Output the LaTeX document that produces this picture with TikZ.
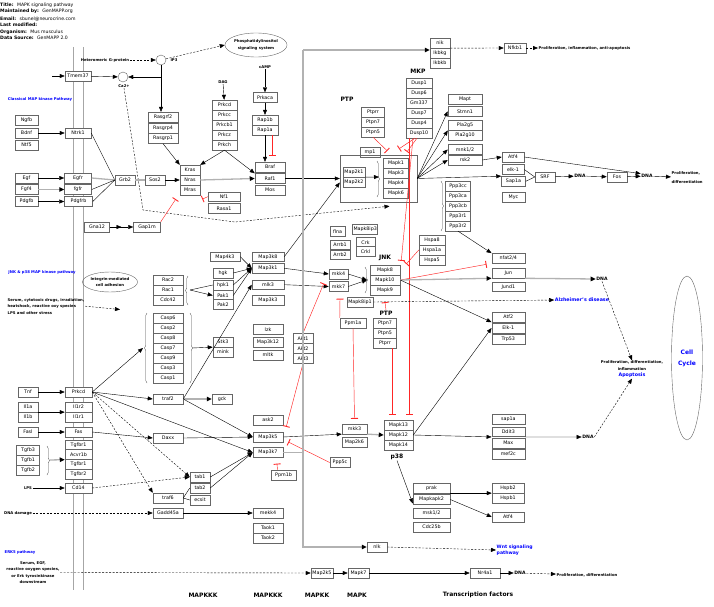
\documentclass[tikz,border=0pt]{standalone}
\usepackage{fontspec}
\setmainfont{DejaVu Sans}
\usetikzlibrary{arrows.meta,calc,shapes.geometric,decorations.pathreplacing}

\tikzset{
  gene/.style={draw=black!60, fill=white, line width=0.5pt, minimum width=#1,
    minimum height=9.8pt, inner sep=0pt, font=\fontsize{4.8}{5}\selectfont},
  gene/.default=25pt,
  note/.style={font=\fontsize{3.8}{6.5}\selectfont\bfseries, inner sep=0.5pt},
  head/.style={font=\fontsize{6}{7}\selectfont\bfseries, inner sep=0.5pt},
  bluenote/.style={note, text=blue},
  ring/.style={circle, draw=black!60, fill=white, minimum size=10pt, inner sep=0pt},
  arr/.style={-{Triangle[length=5pt,width=4pt]}},
  dsh/.style={dash pattern=on 2pt off 1.5pt},
  gline/.style={black!30, line width=1.3pt},
  grayarr/.style={gline, -{Triangle[length=5pt,width=4.5pt,color=black]}},
  inh/.style={red!85, line width=0.45pt, -{Bar[width=7pt,line width=0.9pt]}},
  brc/.style={decorate, decoration={brace, amplitude=2.5pt}, black!70, line width=0.4pt},
  memb/.style={black!35, line width=0.7pt},
}

\begin{document}
\begin{tikzpicture}[x=1pt, y=-1pt, line width=0.4pt]
  \useasboundingbox (0,0) rectangle (714,607);

  % header
  \begin{scope}[font=\fontsize{4.6}{5}\selectfont]
    \node[anchor=west, inner sep=0] (hd1) at (0,5) {\textbf{Title:} \ MAPK signaling pathway};
    \node[anchor=west, inner sep=0] (hd2) at (0,11.7) {\textbf{Maintained by:} \ GenMAPP.org};
    \node[anchor=west, inner sep=0] (hd3) at (0,18.7) {\textbf{Email:} \ sbunel@neurocrine.com};
    \node[anchor=west, inner sep=0] (hd4) at (0,25) {\textbf{Last modified:}};
    \node[anchor=west, inner sep=0] (hd5) at (0,32) {\textbf{Organism:} \ Mus musculus};
    \node[anchor=west, inner sep=0] (hd6) at (0,38.3) {\textbf{Data Source:} \ GenMAPP 2.0};
  \end{scope}

  % membrane
  \draw[memb] (73,47) -- (73,590);
  \draw[memb] (83,47) -- (83,590);

  % top: G-protein, Ca2+, PKC, cAMP
  \node[note] (hgp) at (105,60) {Heteromeric G-protein};
  \node[ring] (ip3) at (161,60) {};
  \node[note] (ip3l) at (174,60) {IP3};
  \node[draw=black!60, ellipse, minimum width=53pt, minimum height=24pt, inner sep=0pt,
    align=center, font=\fontsize{3.8}{7}\selectfont\bfseries] (pis) at (256,45) {Phosphatidylinositol\\signaling system};
  \coordinate (tm0) at (52,76);
  \node[gene=26] (tmem37) at (78,76) {Tmem37};
  \node[ring] (ca) at (123,77) {};
  \node[note] (cal) at (124,86) {Ca2+};
  \node[bluenote] (classic) at (40,99) {Classical MAP kinase Pathway};

  \node[gene=30] (rasgrf2) at (163,117) {Rasgrf2};
  \node[gene=30] (rasgrp4) at (163,128) {Rasgrp4};
  \node[gene=30] (rasgrp1) at (163,138.5) {Rasgrp1};

  \node[note] (dag) at (223,82) {DAG};
  \node[gene=25] (prkcd) at (224.5,105) {Prkcd};
  \node[gene=25] (prkcc) at (224.5,115) {Prkcc};
  \node[gene=25] (prkcb1) at (224.5,125) {Prkcb1};
  \node[gene=25] (prkcz) at (224.5,135) {Prkcz};
  \node[gene=25] (prkch) at (224.5,145) {Prkch};

  \node[note] (camp) at (265,67) {cAMP};
  \node[gene=24] (prkaca) at (265,97.5) {Prkaca};
  \node[gene=26] (rap1b) at (265,120) {Rap1b};
  \node[gene=26] (rap1a) at (265,130) {Rap1a};
  \node[gene=30] (braf) at (270,167) {Braf};
  \node[gene=30] (raf1) at (270,178.5) {Raf1};
  \node[gene=30] (mos) at (270,190) {Mos};

  % NF-kB
  \node[gene=20] (nik) at (440,43) {nik};
  \node[gene=20] (ikbkg) at (440,53) {Ikbkg};
  \node[gene=20] (ikbkb) at (440,63) {Ikbkb};
  \node[gene=22] (nfkb1) at (515,48) {Nfkb1};
  \node[note, anchor=west] (prolif0) at (538,48) {Proliferation, inflammation, anti-apoptosis};

  % MKP / PTP
  \node[head] (mkp) at (418,71) {MKP};
  \node[gene=26] (dusp1) at (419,83) {Dusp1};
  \node[gene=26] (dusp6) at (419,93) {Dusp6};
  \node[gene=26] (gm337) at (419,103) {Gm337};
  \node[gene=26] (dusp7) at (419,113) {Dusp7};
  \node[gene=26] (dusp4) at (419,123) {Dusp4};
  \node[gene=26] (dusp10) at (419,133) {Dusp10};
  \node[head] (ptp1) at (347,99) {PTP};
  \node[gene=23] (ptprr) at (373,112) {Ptprr};
  \node[gene=23] (ptpn7) at (373,122) {Ptpn7};
  \node[gene=23] (ptpn5) at (373,132) {Ptpn5};
  \node[gene=20] (mp1) at (370,152) {mp1};

  % ERK targets
  \node[gene=34] (mapt) at (465,99.5) {Mapt};
  \node[gene=34] (stmn1) at (465,111.3) {Stmn1};
  \node[gene=34] (pla2g5) at (465,125.3) {Pla2g5};
  \node[gene=34] (pla2g10) at (465,135) {Pla2g10};
  \node[gene=34] (mnk12) at (465,149.5) {mnk1/2};
  \node[gene=34] (rsk2) at (465,160) {rsk2};
  \node[gene=22] (atf4top) at (513,157) {Atf4};
  \node[gene=22] (elk1) at (513,169.5) {elk-1};
  \node[gene=24] (sap1a) at (513.5,181.3) {Sap1a};
  \node[gene=23] (myc) at (513.5,197) {Myc};
  \node[gene=20] (srf) at (545,177) {SRF};
  \node[note, font=\fontsize{4.6}{5}\selectfont\bfseries] (dna1) at (580,176) {DNA};
  \node[gene=20] (fos) at (617,177) {Fos};
  \node[note, font=\fontsize{4.6}{5}\selectfont\bfseries] (dna2) at (647,176) {DNA};
  \node[note, anchor=west, align=left, font=\fontsize{3.8}{8.5}\selectfont\bfseries] (prolif1) at (671,177.5) {Proliferation,\\differentiation};

  % ERK module
  \node[draw=black!60, minimum width=77pt, minimum height=47pt, inner sep=0pt] (erkbox) at (378.5,178.5) {};
  \node[gene=22] (map2k1) at (354,172) {Map2k1};
  \node[gene=22] (map2k2) at (354,182) {Map2k2};
  \node[gene=25] (mapk1) at (396,163) {Mapk1};
  \node[gene=25] (mapk3) at (396,173) {Mapk3};
  \node[gene=25] (mapk4) at (396,183) {Mapk4};
  \node[gene=25] (mapk6) at (396,193) {Mapk6};
  \draw[brc] (377,161) -- (377,197);
  \coordinate (brk1) at (379,177);

  % Ras
  \node[gene=20] (kras) at (190,170) {Kras};
  \node[gene=20] (nras) at (190,180) {Nras};
  \node[gene=20] (mras) at (190,190) {Mras};
  \node[gene=32] (nf1) at (224,196.7) {Nf1};
  \node[gene=32] (rasa1) at (224,208.3) {Rasa1};
  \node[gene=20] (grb2) at (125,180) {Grb2};
  \node[gene=20] (sos2) at (155,180) {Sos2};
  \node[gene=25] (gna12) at (97,227) {Gna12};
  \node[gene=27] (gap1m) at (147,227) {Gap1m};

  % receptors
  \node[gene=23] (ngfb) at (26.5,120.5) {Ngfb};
  \node[gene=23] (bdnf) at (26.5,133) {Bdnf};
  \node[gene=23] (ntf5) at (26.5,145) {Ntf5};
  \node[gene=26] (ntrk1) at (78,133) {Ntrk1};
  \node[gene=23] (egf) at (26.5,178) {Egf};
  \node[gene=23] (fgf4) at (26.5,189.5) {Fgf4};
  \node[gene=23] (pdgfb) at (26.5,201.5) {Pdgfb};
  \node[gene=27] (egfr) at (78,178) {Egfr};
  \node[gene=27] (fgfr) at (78,189.5) {fgfr};
  \node[gene=28] (pdgfrb) at (78.5,201.5) {Pdgfrb};

  % calcineurin, scaffolds, JNK
  \node[gene=25] (ppp3cc) at (458,186) {Ppp3cc};
  \node[gene=25] (ppp3ca) at (458,196) {Ppp3ca};
  \node[gene=25] (ppp3cb) at (458,206) {Ppp3cb};
  \node[gene=25] (ppp3r1) at (458,216) {Ppp3r1};
  \node[gene=25] (ppp3r2) at (458,226) {Ppp3r2};
  \draw[brc] (441,181) -- (441,231);
  \node[gene=15] (flna) at (337.5,231.3) {flna};
  \node[gene=25] (mapk8ip3) at (365.2,229.2) {Mapk8ip3};
  \node[gene=20] (arrb1) at (340,244.7) {Arrb1};
  \node[gene=20] (arrb2) at (340,254.7) {Arrb2};
  \node[gene=19] (crk) at (365.5,242.3) {Crk};
  \node[gene=19] (crkl) at (365.5,251.5) {Crkl};
  \node[gene=26] (hspa8) at (432,240) {Hspa8};
  \node[gene=26] (hspa1a) at (432,250) {Hspa1a};
  \node[gene=26] (hspa5) at (432,260) {Hspa5};
  \node[gene=33] (nfat) at (508.3,258.3) {nfat2/4};
  \node[gene=33] (jun) at (508.3,273.3) {Jun};
  \node[gene=33] (jund1) at (508.3,286.7) {Jund1};
  \node[head] (jnk) at (385,258) {JNK};
  \node[gene=30] (mapk8) at (385,270) {Mapk8};
  \node[gene=30] (mapk10) at (385,280) {Mapk10};
  \node[gene=30] (mapk9) at (385,290) {Mapk9};
  \node[gene=19] (mkk4) at (338.5,274) {mkk4};
  \node[gene=19] (mkk7) at (338.5,286.5) {mkk7};
  \draw[brc] (365,267) -- (365,293);
  \coordinate (brk2) at (367,280);

  % MAPKKK column
  \node[gene=32] (map3k8) at (268,256.7) {Map3k8};
  \node[gene=32] (map3k1) at (268,268.3) {Map3k1};
  \node[gene=32] (mlk3) at (268,284.7) {mlk3};
  \node[gene=32] (map3k3) at (268,300) {Map3k3};
  \node[gene=30] (map4k3) at (225,256.7) {Map4k3};
  \node[gene=20] (hgk) at (223,273) {hgk};
  \node[gene=20] (hpk1) at (223,285) {hpk1};
  \node[gene=20] (pak1) at (223,295.5) {Pak1};
  \node[gene=20] (pak2) at (223,304.5) {Pak2};
  \node[gene=30] (rac2) at (168,280) {Rac2};
  \node[gene=30] (rac1) at (168,290) {Rac1};
  \node[gene=30] (cdc42) at (168,300) {Cdc42};
  \draw[brc] (188,305) -- (188,276);
  \coordinate (rbr) at (190,290);
  \node[draw=black!60, ellipse, minimum width=50pt, minimum height=20pt, inner sep=0pt,
    align=center, font=\fontsize{3.8}{5.5}\selectfont\bfseries] (integrin) at (110,282) {Integrin-mediated\\cell adhesion};
  \node[bluenote] (jnktxt) at (42,272) {JNK \& p38 MAP kinase pathway};
  \node[note, anchor=north west, align=left] (serum) at (7,297.5) {Serum, cytotoxic drugs, irradiation,\\heatshock, reactive oxy species\\LPS and other stress};
  \coordinate (sr1) at (120,309.5);

  \node[gene=26] (mapk8ip1) at (360,302) {Mapk8ip1};
  \node[head] (ptp2) at (386,313) {PTP};
  \node[gene=26] (ppm1a) at (353,323) {Ppm1a};
  \node[gene=23] (ptpn7b) at (385,323) {Ptpn7};
  \node[gene=23] (ptpn5b) at (385,333) {Ptpn5};
  \node[gene=23] (ptprrb) at (385,343) {Ptprr};
  \node[gene=30] (lzk) at (268,329.5) {lzk};
  \node[gene=30] (map3k12) at (268,342) {Map3k12};
  \node[gene=30] (mltk) at (268,355) {mltk};
  \node[gene=20] (akt1) at (303,338.3) {Akt1};
  \node[gene=20] (akt2) at (303,348.3) {Akt2};
  \node[gene=20] (akt3) at (303,358.3) {Akt3};

  % caspases, TNF branch
  \node[gene=30] (casp6) at (168,318.3) {Casp6};
  \node[gene=30] (casp2) at (168,328.3) {Casp2};
  \node[gene=30] (casp8) at (168,338.3) {Casp8};
  \node[gene=30] (casp7) at (168,348.3) {Casp7};
  \node[gene=30] (casp9) at (168,358.3) {Casp9};
  \node[gene=30] (casp3) at (168,368.3) {Casp3};
  \node[gene=30] (casp1) at (168,378.3) {Casp1};
  \draw[brc] (147,383) -- (147,313);
  \draw[brc] (190,313) -- (190,383);
  \coordinate (cbl) at (143,348);
  \coordinate (cbr) at (192,348);
  \node[gene=20] (stk3) at (223,342) {Stk3};
  \node[gene=20] (mink) at (223,352) {mink};
  \node[gene=30] (traf2) at (168,399) {traf2};
  \node[gene=20] (gck) at (222,399) {gck};
  \node[gene=27] (prkcd2) at (78.5,392) {Prkcd};
  \node[gene=20] (tnf) at (28,392) {Tnf};
  \node[gene=20] (il1a) at (28,407) {Il1a};
  \node[gene=20] (il1b) at (28,417) {Il1b};
  \node[gene=27] (il1r2) at (78.5,407) {Il1r2};
  \node[gene=27] (il1r1) at (78.5,417) {Il1r1};
  \node[gene=20] (fasl) at (28,432) {Fasl};
  \node[gene=27] (fas) at (78.5,432) {Fas};
  \node[gene=30] (daxx) at (168,438) {Daxx};

  % p38 module
  \node[gene=30] (ask2) at (268,420) {ask2};
  \node[gene=30] (map3k5) at (268,437) {Map3k5};
  \node[gene=30] (map3k7) at (268,452.5) {Map3k7};
  \node[gene=25] (mkk3) at (354.5,429) {mkk3};
  \node[gene=25] (map2k6) at (354.5,442.5) {Map2k6};
  \node[gene=29] (mapk13) at (398.5,425) {Mapk13};
  \node[gene=29] (mapk12) at (398.5,435) {Mapk12};
  \node[gene=29] (mapk14) at (398.5,445) {Mapk14};
  \node[head] (p38) at (397,457) {p38};
  \node[gene=33] (atf2) at (508.3,317) {Atf2};
  \node[gene=33] (elk1b) at (508.3,328) {Elk-1};
  \node[gene=33] (trp53) at (508.3,339) {Trp53};
  \node[gene=33] (sap1ab) at (508.3,419.5) {sap1a};
  \node[gene=33] (ddit3) at (508.3,431.8) {Ddit3};
  \node[gene=33] (max) at (508.3,443) {Max};
  \node[gene=33] (mef2c) at (508.3,454) {mef2c};
  \node[note, font=\fontsize{4.6}{5}\selectfont\bfseries] (dna3) at (602,279) {DNA};
  \node[note, font=\fontsize{4.6}{5}\selectfont\bfseries] (dna4) at (588,437) {DNA};
  \node[note, text=blue, font=\fontsize{4.8}{5}\selectfont\bfseries] (alz) at (582,300) {Alzheimer's disease};
  \node[note, align=center] (prolif2) at (632,369.5) {Proliferation, differentiation,\\inflammation\\{\color{blue}\fontsize{4.8}{6.5}\selectfont Apoptosis}};
  \node[draw=black!60, ellipse, minimum width=31pt, minimum height=164pt, inner sep=0pt,
    align=center, text=blue, font=\fontsize{6}{11}\selectfont\bfseries] (cellcyc) at (687,358) {Cell\\Cycle};

  % TGF, LPS, DNA damage
  \node[gene=23] (tgfb3) at (28,450) {Tgfb3};
  \node[gene=23] (tgfb1) at (28,460) {Tgfb1};
  \node[gene=23] (tgfb2) at (28,470) {Tgfb2};
  \draw[brc] (47,446) -- (47,475);
  \coordinate (tbr) at (50,460);
  \node[gene=27] (tgfbr1) at (78.5,445) {Tgfbr1};
  \node[gene=27] (acvr1b) at (78.5,454.5) {Acvr1b};
  \node[gene=27] (tgfbr1b) at (78.5,464) {Tgfbr1};
  \node[gene=27] (tgfbr2) at (78.5,474) {Tgfbr2};
  \node[gene=27] (cd14) at (78.5,488) {Cd14};
  \node[note] (lps) at (28,488) {LPS};
  \node[gene=30] (traf6) at (168,498) {traf6};
  \node[gene=20] (tab1) at (200,477) {tab1};
  \node[gene=20] (tab2) at (200,488) {tab2};
  \node[gene=20] (ecsit) at (200,500) {ecsit};
  \node[gene=20] (ppp5c) at (340,462.5) {Ppp5c};
  \node[gene=25] (ppm1b) at (283.5,475) {Ppm1b};
  \node[note] (dnadmg) at (18,513) {DNA damage};
  \node[gene=30] (gadd45a) at (168,513) {Gadd45a};
  \node[gene=30] (mekk4) at (268,513) {mekk4};
  \node[gene=30] (taok1) at (268,528) {Taok1};
  \node[gene=30] (taok2) at (268,538) {Taok2};
  \node[gene=37] (prak) at (431.5,488) {prak};
  \node[gene=37] (mapkapk2) at (431.5,499.5) {Mapkapk2};
  \node[gene=37] (msk12) at (431.5,513) {msk1/2};
  \node[gene=37] (cdc25b) at (431.5,527) {Cdc25b};
  \node[gene=32] (hspb2) at (508,488) {Hspb2};
  \node[gene=32] (hspb1) at (508,498) {Hspb1};
  \node[gene=32] (atf4b) at (508,517) {Atf4};
  \node[gene=20] (nlk) at (377,547) {nlk};
  \node[note, anchor=west, align=left, text=blue, font=\fontsize{4.6}{6.5}\selectfont\bfseries] (wnt) at (496,550) {Wnt signaling\\pathway};

  % ERK5
  \node[bluenote] (erk5) at (20,552) {ERK5 pathway};
  \node[note, align=center] (serum5) at (33,572.5) {Serum, EGF,\\reactive oxygen species,\\or Erk tyrosinkinase\\downstream};
  \node[gene=22] (map2k5) at (322,573) {Map2k5};
  \node[gene=21] (mapk7) at (358.5,573) {Mapk7};
  \node[gene=30] (nr4a1) at (485,573) {Nr4a1};
  \node[note, font=\fontsize{4.6}{5}\selectfont\bfseries] (dna5) at (520,573) {DNA};
  \node[note] (prolif3) at (587,575) {Proliferation, differentiation};

  % bottom labels
  \node[head] (lab1) at (203,595) {MAPKKK};
  \node[head] (lab2) at (268,595) {MAPKKK};
  \node[head] (lab3) at (317,595) {MAPKK};
  \node[head] (lab4) at (357,595) {MAPK};
  \node[head] (lab5) at (478,595) {Transcription factors};

  % ---- connectors ----
  \draw[arr] (tm0) -- (tmem37);
  \draw[arr] (tmem37) -- (ca);
  \draw[dsh, arr] (hgp) -- (ip3);
  \draw[dsh, arr] (ip3) -- (pis.west);
  \draw[arr] (ip3.south) |- (ca.east);
  \draw[arr] (ip3.south) -- (ip3.south |- rasgrf2.north);
  \coordinate (cab1) at (143,210);
  \coordinate (cab2) at (235,222);
  \draw[dsh, arr] (cal.south) -- (cab1) -- (cab2) -- ([shift={(11,4)}]erkbox.south);
  \draw[arr] (dag) -- (prkcd);
  \draw[arr] (camp) -- (prkaca);
  \draw[arr] (prkaca) -- (rap1b);
  \draw[arr] (rap1a.south) -- (rap1a.south |- braf.north);
  \draw[inh] ([xshift=7pt]rap1a.south) -- ([shift={(2,-6)}]braf.north);
  \draw[arr] (rasgrp1.south) -- (kras.north west);
  \draw[arr] (prkch.south) -- (kras.north east);
  \draw[arr] (prkch.south) -- (raf1.north west);

  \draw[arr] (bdnf) -- (ntrk1);
  \draw (ntrk1.east) -- (grb2.west);
  \draw[arr] (egf) -- (egfr);
  \draw[grayarr] (fgf4) -- (fgfr);
  \draw[arr] (pdgfb) -- (pdgfrb);
  \draw[gline] (egfr.east) -- (grb2.west);
  \draw (fgfr.east) -- (grb2.west);
  \draw (pdgfrb.east) -- (grb2.west);
  \draw[gline] (grb2) -- (sos2);
  \draw[arr] (sos2) -- (nras);
  \draw[grayarr] (nras.east) -- (raf1.west);
  \draw[inh] (nf1.west) -- ([shift={(2,4)}]mras.south east);
  \draw[inh] (gap1m.north east) -- ([shift={(-4,4)}]mras.south west);
  \draw[arr] (gna12.east) -- ($(gna12.east)!0.5!(gap1m.west)$);
  \draw[arr] (gna12) -- (gap1m);

  \draw[arr] (raf1.east) -- (erkbox.west);
  \draw[arr] (map2k1.south east) -- (brk1);
  \draw[inh] (ptpn5.south) -- ([shift={(4,-7)}]mapk1.north west);
  \draw[inh] ([xshift=-4pt]dusp10.south) -- ([shift={(3,-9)}]mapk1.north);
  \draw[inh] ([xshift=-2pt]dusp10.south) -- ([shift={(11,-6)}]mapk1.north);
  \draw[inh] ([xshift=-6pt]dusp10.south) -- ([shift={(1,-4)}]mapk8.north east);
  \draw[inh] ([xshift=-10pt]dusp10.south) -- ([shift={(10.5,-5)}]mapk13.north);
  \draw[arr] (erkbox.east) -- (stmn1.west);
  \draw[arr] (erkbox.east) -- (pla2g5.south west);
  \draw[arr] (erkbox.east) -- (mnk12.west);
  \draw[arr] (erkbox.east) -- (rsk2.west);
  \draw[arr] (erkbox.east) -- (sap1a.north west);
  \draw[arr] (rsk2.east) -- (atf4top.west);
  \draw[arr] (atf4top.east) -- (dna2.north west);
  \draw (elk1.east) -- (srf.west);
  \draw (sap1a.east) -- (srf.west);
  \draw[arr] (srf) -- (dna1);
  \draw[arr] (dna1) -- (fos);
  \draw[arr] (fos) -- (dna2);
  \draw[arr] (dna2) -- (prolif1);

  \draw[arr] (ppp3r2.south) -- (nfat.north west);
  \draw[inh] (hspa1a.west) -- ([shift={(6,-6)}]mapk8.east);
  \draw[inh] (mapk10.east) -- ([shift={(-5,6)}]nfat.west);
  \draw[grayarr] (mapk10.east) -- ([yshift=-5pt]jun.west);
  \draw[grayarr] ([yshift=-5pt]jun.east) -- (dna3.west);
  \draw[dsh, arr] (dna3.south) -- (prolif2.north);
  \draw[arr] (mapk10.east) -- (atf2.south west);
  \draw[dsh, arr] (mapk8ip1.east) -- (alz.west);
  \draw[inh] (ptp2.north) -- ([yshift=-7pt]mapk9.south);
  \draw[inh] (ppm1a.north west) -- ([shift={(1.5,7)}]mkk7.south);
  \draw[inh] (ppm1a.south) -- ([yshift=5pt]mkk3.north);
  \draw[inh] ([xshift=7pt]ptprrb.south) -- ([shift={(-6.5,-5)}]mapk13.north);

  \draw[arr] (map3k1.east) -- (mkk4.west);
  \draw[arr] (mlk3.east) -- (mkk7.west);
  \draw[arr] (map3k8.east) -- ([yshift=-4pt]erkbox.west);
  \draw[arr] (mkk4.east) -- (brk2);
  \draw[arr] (mkk7.east) -- (brk2);
  \draw[arr] (map4k3.east) -- (map3k1.west);
  \draw[arr] (hgk.east) -- (map3k1.west);
  \draw[arr] (hpk1.east) -- (map3k1.west);
  \draw[arr] (pak1.east) -- (map3k1.west);
  \draw (rbr) -- (hpk1.west);
  \draw[arr] (rbr) -- (pak1.west);
  \draw[dsh, arr] (serum.east) -- (sr1);
  \draw[inh] (akt1.north) -- ([shift={(-5,-3)}]mkk7.west);
  \draw[inh] (akt3.south) -- ([shift={(3,-5)}]map3k5.north east);

  \draw[arr] (tnf) -- (prkcd2);
  \draw[arr] (il1a.south east) -- (il1r2.south west);
  \draw[arr] (fasl) -- (fas);
  \draw[arr] (prkcd2.east) -- (cbl);
  \draw[arr] (cbr) -- (stk3.south west);
  \draw[arr] (prkcd2.east) -- (traf2.west);
  \draw[dsh, arr] (prkcd2.east) -- (traf6.north west);
  \draw[dsh, arr] (prkcd2.east) -- (tab1.west);
  \draw[arr] (prkcd2.east) -- (map3k7.west);
  \draw[grayarr] (traf2.east) -- (gck.west);
  \draw[arr] (traf2.east) -- (map3k5.west);
  \draw[arr] (traf2.east) -- (mlk3.west);
  \draw[arr] (fas.east) -- (daxx.west);
  \draw[arr] (daxx.east) -- (map3k5.west);
  \draw[grayarr] (tbr) -- (acvr1b.south west);
  \draw[arr] (lps) -- (cd14);
  \draw[dsh, arr] (cd14.east) -- (tab1.west);
  \draw (traf6.east) -- (tab2.west);
  \draw (traf6.east) -- (ecsit.west);
  \draw[arr] (tab1.east) -- (map3k7.west);
  \draw[arr] (tab2.east) -- (map3k7.west);
  \draw[inh] (ppp5c.west) -- ([shift={(5,5)}]map3k5.east);
  \draw[inh] ([xshift=-6pt]ppm1b.north) -- ([shift={(9,6)}]map3k7.south);
  \draw[dsh, arr] (dnadmg) -- (gadd45a);
  \draw[arr] (gadd45a) -- (mekk4);

  \draw[arr] (map3k5.east) -- (mkk3.south west);
  \draw[grayarr] (mkk3.south east) -- (mapk12.west);
  \draw[arr] (mapk12.east) -- (elk1b.west);
  \draw[arr] (mapk12.east) -- (ddit3.south west);
  \draw[arr] (ddit3.south east) -- (dna4.west);
  \draw[dsh, arr] (dna4.east) -- (prolif2.south);
  \draw[arr] (p38.south) -- ([yshift=-4pt]mapkapk2.west);
  \draw[arr] (prak.south east) -- (hspb2.south west);
  \draw[arr] (mapkapk2.east) -- (atf4b.west);

  % TAK1 branch to NF-kB and nlk
  \coordinate (gtop) at (303,50);
  \draw[gline] (map3k7.east) -| (gtop);
  \draw[grayarr] (gtop) -- (gtop -| ikbkg.west);
  \draw[grayarr] (map3k7.east -| gtop) |- (nlk.west);
  \draw[dsh, arr] (nik.south east) -- (nfkb1.west);
  \draw[dsh, arr] (nfkb1.east) -- (prolif0.west);
  \draw[dsh, arr] (nlk.east) -- (wnt.west);

  \draw[dsh, arr] (serum5.east) -- (map2k5.west);
  \draw[arr] (map2k5) -- (mapk7);
  \draw[arr] (mapk7) -- (nr4a1);
  \draw[arr] (nr4a1) -- (dna5);
  \draw[dsh, arr] (dna5) -- (prolif3);
\end{tikzpicture}
\end{document}
